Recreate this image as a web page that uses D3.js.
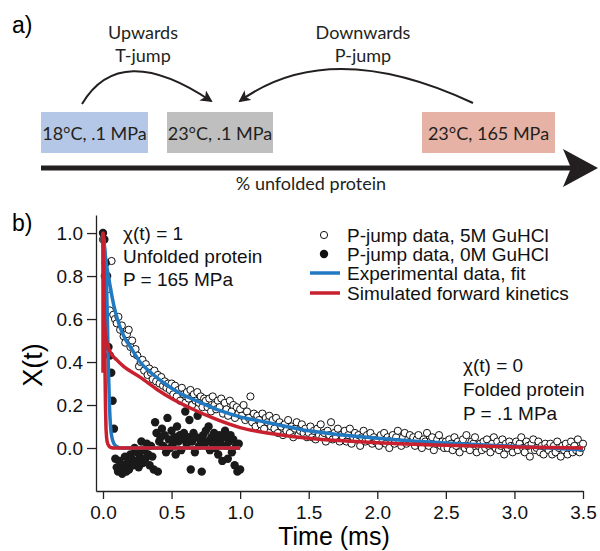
<!DOCTYPE html>
<html>
<head>
<meta charset="utf-8">
<script src="https://cdn.jsdelivr.net/npm/d3@7"></script>
<style>
  body { margin: 0; background: #fff; }
  svg { display: block; }
</style>
</head>
<body>
<svg id="fig" width="600" height="551"></svg>
<script>
// ---- panel a text
const stateLabels = ["18°C, .1 MPa", "23°C, .1 MPa", "23°C, 165 MPa"];
const jumpLabels = [["Upwards", "T-jump"], ["Downwards", "P-jump"]];
const arrowCaption = "% unfolded protein";

// ---- panel b data
const xTicks = [0, 0.5, 1.0, 1.5, 2.0, 2.5, 3.0, 3.5];
const yTicks = [0, 0.2, 0.4, 0.6, 0.8, 1.0];

// P-jump data, 5M GuHCl (sampled every 0.0125 ms from t = 0)
const openStep = 0.0125;
const openVals = [
  0.97, 0.80, 0.78, 0.74, 0.64, 0.87, 0.62, 0.60, 0.58, 0.61, 0.55, 0.57, 0.52, 0.49, 0.53, 0.55, 0.47, 0.50, 0.44, 0.46,
  0.43, 0.38, 0.40, 0.41, 0.36, 0.39, 0.34, 0.37, 0.35, 0.32, 0.36, 0.31, 0.34, 0.30, 0.33, 0.29, 0.31, 0.28, 0.30, 0.27,
  0.30, 0.25, 0.29, 0.24, 0.27, 0.22, 0.28, 0.25, 0.21, 0.26, 0.23, 0.27, 0.20, 0.25, 0.22, 0.26, 0.21, 0.24, 0.19, 0.23,
  0.22, 0.19, 0.23, 0.17, 0.24, 0.20, 0.18, 0.22, 0.19, 0.23, 0.16, 0.21, 0.18, 0.15, 0.22, 0.17, 0.20, 0.14, 0.19, 0.16,
  0.18, 0.15, 0.20, 0.13, 0.17, 0.14, 0.24, 0.12, 0.16, 0.10, 0.15, 0.13, 0.11, 0.16, 0.09, 0.14, 0.12, 0.15, 0.10, 0.13,
  0.09, 0.14, 0.07, 0.12, 0.10, 0.06, 0.11, 0.08, 0.13, 0.07, 0.10, 0.05, 0.09, 0.12, 0.06, 0.08, 0.11, 0.07, 0.09, 0.05,
  0.07, 0.10, 0.05, 0.08, 0.04, 0.09, 0.06, 0.11, 0.05, 0.07, 0.03, 0.08, 0.06, 0.12, 0.04, 0.07, 0.05, 0.09, 0.03, 0.06,
  0.05, 0.08, 0.03, 0.06, 0.09, 0.02, 0.05, 0.07, 0.04, 0.06, 0.01, 0.05, 0.08, 0.03, 0.06, 0.04, 0.07, 0.02, 0.05, 0.03,
  0.04, 0.01, 0.06, 0.03, 0.07, 0.02, 0.05, 0.00, 0.04, 0.06, 0.02, 0.05, 0.08, 0.03, 0.01, 0.05, 0.07, 0.02, 0.04, 0.06,
  0.03, 0.05, 0.01, 0.04, 0.06, 0.02, 0.00, 0.04, 0.03, 0.07, 0.01, 0.03, 0.05, -0.01, 0.02, 0.04, 0.06, 0.01, 0.03, 0.00,
  0.03, 0.00, 0.04, 0.02, -0.01, 0.05, 0.01, 0.03, -0.02, 0.02, 0.04, 0.00, 0.06, 0.01, -0.01, 0.03, 0.02, 0.05, -0.02, 0.01,
  0.02, -0.01, 0.03, 0.00, 0.04, 0.01, -0.02, 0.02, 0.05, 0.00, 0.03, -0.01, 0.01, 0.04, -0.03, 0.02, 0.00, 0.03, 0.01, -0.02,
  0.01, 0.03, -0.01, 0.02, 0.05, 0.00, -0.02, 0.03, 0.01, -0.04, 0.02, 0.04, -0.01, 0.00, 0.03, -0.02, 0.01, -0.03, 0.02, 0.00,
  -0.01, 0.02, -0.03, 0.01, -0.02, 0.03, 0.00, -0.04, 0.01, -0.01, 0.02, -0.03, 0.00, 0.03, -0.02, 0.01, -0.01, 0.04, -0.02, 0.00,
  0.02
];

// P-jump data, 0M GuHCl (sampled every 0.01 ms from t = 0)
const filledStep = 0.01;
const filledVals = [
  1.00, 0.97, 0.86, 0.80, 0.47, 0.43, 0.35, 0.22, 0.09, -0.05,
  -0.09, -0.11, -0.06, -0.10, -0.12, -0.08, -0.04, -0.11, -0.07, -0.10,
  -0.03, -0.05, -0.08, 0.00, -0.06, -0.02, -0.09, -0.04, 0.03, -0.07,
  -0.01, -0.05, 0.02, -0.03, -0.08, 0.01, -0.04, -0.10, 0.12, 0.07,
  -0.11, 0.03, 0.05, 0.09, 0.01, 0.06, -0.02, 0.14, 0.04, 0.00,
  0.08, 0.02, 0.05, -0.03, 0.10, 0.03, 0.06, -0.01, 0.04, 0.07,
  0.17, 0.02, 0.05, 0.13, -0.10, 0.03, 0.07, -0.02, 0.05, 0.15,
  0.01, 0.04, -0.11, 0.06, 0.02, 0.08, 0.03, 0.10, -0.01, 0.05,
  0.02, 0.07, 0.00, 0.04, -0.03, 0.06, 0.02, -0.06, 0.05, 0.08,
  0.01, -0.05, 0.03, 0.06, -0.02, 0.04, -0.08, 0.01, -0.11, 0.02, -0.10
];

// Experimental data, fit (blue)
const fitSlowT = [0, 0.02, 0.05, 0.08, 0.12, 0.16, 0.2, 0.27, 0.35, 0.45, 0.56, 0.7, 0.85, 1.0, 1.15, 1.3, 1.5, 1.75, 2.0, 2.25, 2.5, 2.75, 3.0, 3.25, 3.5];
const fitSlowV = [1.0, 0.88, 0.76, 0.66, 0.57, 0.51, 0.47, 0.40, 0.35, 0.30, 0.255, 0.215, 0.175, 0.145, 0.125, 0.105, 0.08, 0.06, 0.045, 0.033, 0.023, 0.015, 0.008, 0.0, -0.008];
const fitFastT = [0, 0.015, 0.025, 0.032, 0.039, 0.047, 0.055, 0.065, 0.08, 0.1, 0.13, 1.0];
const fitFastV = [1.0, 0.9, 0.78, 0.6, 0.38, 0.2, 0.1, 0.05, 0.02, 0.007, 0.0, 0.0];

// Simulated forward kinetics (red)
const simSlowT = [0, 0.005, 0.01, 0.02, 0.05, 0.1, 0.15, 0.27, 0.4, 0.5, 0.64, 0.8, 1.0, 1.25, 1.5, 2.0, 2.5, 3.0, 3.5];
const simSlowV = [1.0, 0.75, 0.6, 0.52, 0.45, 0.41, 0.38, 0.33, 0.27, 0.23, 0.185, 0.14, 0.095, 0.065, 0.045, 0.025, 0.013, 0.005, 0.0];
const simFastT = [0, 0, 0.008, 0.014, 0.018, 0.022, 0.026, 0.03, 0.036, 0.045, 0.055, 0.07, 1.0];
const simFastV = [0.35, 1.0, 0.7, 0.4, 0.2, 0.09, 0.05, 0.03, 0.017, 0.008, 0.003, 0.0, 0.0];

const legendLabels = ["P-jump data, 5M GuHCl", "P-jump data, 0M GuHCl", "Experimental data, fit", "Simulated forward kinetics"];
const noteUnfolded = ["χ(t) = 1", "Unfolded protein", "P = 165 MPa"];
const noteFolded = ["χ(t) = 0", "Folded protein", "P = .1 MPa"];

const BLUE = "#2179c2", RED = "#c8202e", INK = "#231f20";
const helv = "'Liberation Sans', Arial, Helvetica, sans-serif";
const myriad = "Lato, 'Open Sans', sans-serif";

const svg = d3.select("#fig");

// =============== PANEL a
const pa = svg.append("g").attr("font-family", myriad).attr("fill", INK);

svg.append("text").attr("x", 12).attr("y", 33)
  .attr("font-family", helv).attr("font-size", 23).text("a)");

const boxes = [
  { x: 41, w: 107, fill: "#b5c7e6" },
  { x: 167, w: 106, fill: "#bfbfbf" },
  { x: 422, w: 133, fill: "#e6b2a5" }
];
const boxTop = 112, boxH = 41;
boxes.forEach((b, i) => {
  pa.append("rect").attr("x", b.x).attr("y", boxTop).attr("width", b.w).attr("height", boxH).attr("fill", b.fill);
  pa.append("text").attr("x", b.x + b.w / 2).attr("y", boxTop + 28)
    .attr("text-anchor", "middle").attr("font-size", 18).text(stateLabels[i]);
});

// curved arrow markers
const defs = svg.append("defs");
defs.append("marker").attr("id", "head").attr("viewBox", "0 0 12 12")
  .attr("refX", 10).attr("refY", 6).attr("markerWidth", 12).attr("markerHeight", 12)
  .attr("markerUnits", "userSpaceOnUse").attr("orient", "auto")
  .append("path").attr("d", "M0,0 L12,6 L0,12 L3,6 Z").attr("fill", INK);

pa.append("path").attr("d", "M82,104 Q120,40 211,101")
  .attr("fill", "none").attr("stroke", INK).attr("stroke-width", 2).attr("marker-end", "url(#head)");
pa.append("path").attr("d", "M473,103 Q330,36 240,101")
  .attr("fill", "none").attr("stroke", INK).attr("stroke-width", 2).attr("marker-end", "url(#head)");

const jumpX = [143, 363];
jumpLabels.forEach((lines, i) => {
  lines.forEach((s, j) => {
    pa.append("text").attr("x", jumpX[i]).attr("y", 39 + j * 23)
      .attr("text-anchor", "middle").attr("font-size", 18).text(s);
  });
});

// big horizontal arrow
const arrowY = 168;
pa.append("line").attr("x1", 41).attr("x2", 575).attr("y1", arrowY).attr("y2", arrowY)
  .attr("stroke", INK).attr("stroke-width", 5);
pa.append("path").attr("d", `M598,${arrowY} L563,${arrowY - 19} L571,${arrowY} L563,${arrowY + 19} Z`).attr("fill", INK);
pa.append("text").attr("x", 311).attr("y", arrowY + 22).attr("text-anchor", "middle")
  .attr("font-size", 18).text(arrowCaption);

// =============== PANEL b
svg.append("text").attr("x", 12).attr("y", 231)
  .attr("font-family", helv).attr("font-size", 23).text("b)");

const x = d3.scaleLinear().domain([-0.051, 3.5]).range([96, 583]);
const y = d3.scaleLinear().domain([-0.2, 1.084]).range([491, 215]);

const gx = svg.append("g").attr("transform", "translate(0,491)")
  .call(d3.axisBottom(x).tickValues(xTicks).tickFormat(d3.format(".1f")).tickSize(8).tickSizeOuter(0).tickPadding(7));
const gy = svg.append("g").attr("transform", "translate(96,0)")
  .call(d3.axisLeft(y).tickValues(yTicks).tickFormat(d3.format(".1f")).tickSize(9).tickSizeOuter(0).tickPadding(4));
[gx, gy].forEach(g => {
  g.selectAll("path, line").attr("stroke", "#222").attr("stroke-width", 1.3);
  g.selectAll("text").attr("font-family", helv).attr("font-size", 19).attr("fill", "#111");
});

svg.append("text").attr("x", 334).attr("y", 545).attr("text-anchor", "middle")
  .attr("font-family", helv).attr("font-size", 25).text("Time (ms)");
svg.append("text").attr("transform", "translate(42,365) rotate(-90)").attr("text-anchor", "middle")
  .attr("font-family", helv).attr("font-size", 27).text("X(t)");

// data
const openData = openVals.map((v, i) => ({ t: i * openStep, v }));
const filledData = filledVals.map((v, i) => ({ t: i * filledStep, v }));

const plot = svg.append("g");
plot.selectAll("circle.open").data(openData).join("circle").attr("class", "open")
  .attr("cx", d => x(d.t)).attr("cy", d => y(d.v)).attr("r", 3.6)
  .attr("fill", "#fff").attr("stroke", "#111").attr("stroke-width", 1);
plot.selectAll("circle.filled").data(filledData).join("circle").attr("class", "filled")
  .attr("cx", d => x(d.t)).attr("cy", d => y(d.v)).attr("r", 4.2)
  .attr("fill", "#1a1a1a");

const smooth = d3.line().x(d => x(d[0])).y(d => y(d[1])).curve(d3.curveMonotoneX);
const straight = d3.line().x(d => x(d[0])).y(d => y(d[1]));
const zip = (a, b) => a.map((t, i) => [t, b[i]]);

plot.append("path").attr("d", smooth(zip(fitSlowT, fitSlowV)))
  .attr("fill", "none").attr("stroke", BLUE).attr("stroke-width", 3.5);
plot.append("path").attr("d", smooth(zip(fitFastT, fitFastV)))
  .attr("fill", "none").attr("stroke", BLUE).attr("stroke-width", 3.5);
plot.append("path").attr("d", smooth(zip(simSlowT, simSlowV)))
  .attr("fill", "none").attr("stroke", RED).attr("stroke-width", 3.5);
plot.append("path").attr("d", straight(zip(simFastT, simFastV)))
  .attr("fill", "none").attr("stroke", RED).attr("stroke-width", 3.5).attr("stroke-linejoin", "round");

// annotations
noteUnfolded.forEach((s, i) => {
  svg.append("text").attr("x", 123).attr("y", 240 + i * 23)
    .attr("font-family", helv).attr("font-size", 19).attr("fill", "#111").text(s);
});
noteFolded.forEach((s, i) => {
  svg.append("text").attr("x", 463).attr("y", 372 + i * 24)
    .attr("font-family", helv).attr("font-size", 19).attr("fill", "#111").text(s);
});

// legend
const leg = svg.append("g");
const legY = [235, 254, 273, 293];
legendLabels.forEach((s, i) => {
  const row = leg.append("g").attr("transform", `translate(0,${legY[i]})`);
  if (i === 0) row.append("circle").attr("cx", 324).attr("r", 3.6).attr("fill", "#fff").attr("stroke", "#111");
  if (i === 1) row.append("circle").attr("cx", 324).attr("r", 4.2).attr("fill", "#111");
  if (i >= 2) row.append("line").attr("x1", 310).attr("x2", 340)
    .attr("stroke", i === 2 ? BLUE : RED).attr("stroke-width", 3.5);
  row.append("text").attr("x", 347).attr("dy", "0.35em")
    .attr("font-family", helv).attr("font-size", 19).attr("fill", "#111").text(s);
});
</script>
</body>
</html>
